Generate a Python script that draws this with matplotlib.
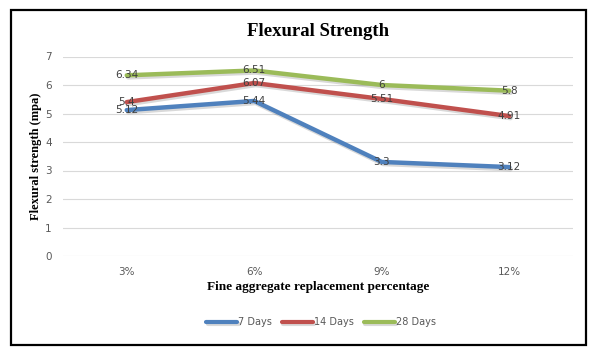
import matplotlib
matplotlib.use("Agg")
import matplotlib.pyplot as plt
import matplotlib.patheffects as pe
from matplotlib.patches import Rectangle

categories = ["3%", "6%", "9%", "12%"]
days7 = [5.12, 5.44, 3.3, 3.12]
days14 = [5.4, 6.07, 5.51, 4.91]
days28 = [6.34, 6.51, 6.0, 5.8]
series_names = ["7 Days", "14 Days", "28 Days"]
colors = ["#4F81BD", "#C0504D", "#9BBB59"]

fig = plt.figure(figsize=(5.93, 3.51), dpi=100)
fig.patches.append(Rectangle((11/593, 1-345/351), (586-11)/593, (345-10)/351,
                             transform=fig.transFigure, fill=False, edgecolor="black",
                             linewidth=1.6, zorder=10))
ax = fig.add_axes([63/593, 1-256/351, 510/593, 199.5/351])
x = list(range(len(categories)))
for vals, name, c in zip([days7, days14, days28], series_names, colors):
    ax.plot(x, vals, color=c, linewidth=3.2, label=name, solid_capstyle="round",
            path_effects=[pe.SimpleLineShadow(offset=(1, -1.5), alpha=0.15), pe.Normal()])
    for xi, v in zip(x, vals):
        ax.text(xi, v, f"{v:g}", ha="center", va="center", fontsize=7.5,
                color="#404040", family="DejaVu Sans")

ax.set_xlim(-0.5, len(categories) - 0.5)
ax.set_ylim(0, 7)
ax.set_yticks(range(0, 8))
ax.set_xticks(x)
ax.set_xticklabels(categories)
ax.tick_params(length=0, labelsize=7.5, labelcolor="#595959", pad=8)
ax.tick_params(axis="y", pad=8)
ax.grid(axis="y", color="#D9D9D9", linewidth=0.8)
ax.set_axisbelow(True)
for s in ax.spines.values():
    s.set_visible(False)

ax.set_title("Flexural Strength", fontsize=13.5, fontweight="bold",
             family="Liberation Serif", pad=15)
ax.set_xlabel("Fine aggregate replacement percentage", fontsize=9.5, fontweight="bold",
              family="Liberation Serif", labelpad=3)
ax.set_ylabel("Flexural strength (mpa)", fontsize=9, fontweight="bold",
              family="Liberation Serif", labelpad=2)

leg = ax.legend(loc="center", bbox_to_anchor=(321/593, 1-322/351),
                bbox_transform=fig.transFigure, ncol=3, frameon=False,
                fontsize=7, handlelength=3.2, handletextpad=0.1, columnspacing=1.0)
for t in leg.get_texts():
    t.set_color("#595959")
for h in leg.get_lines():
    h.set_linewidth(3)

fig.savefig("out.png", dpi=100)
